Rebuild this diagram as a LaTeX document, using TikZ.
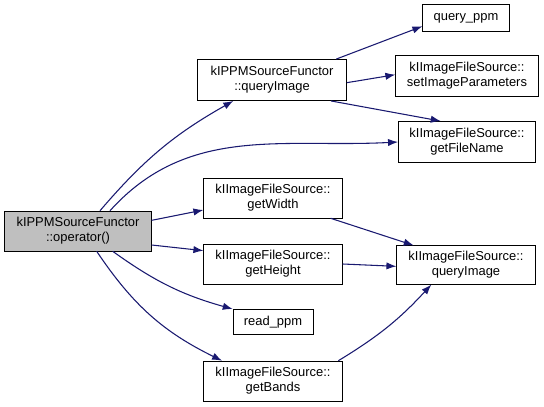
\documentclass[tikz,border=0pt]{standalone}
\usepackage{fontspec}
\setmainfont{Liberation Sans}
\usepackage{tikz}
\usetikzlibrary{arrows.meta,positioning}
\definecolor{edge}{HTML}{191970}
\definecolor{hilite}{HTML}{BFBFBF}
\tikzset{
  fn/.style={draw=black,fill=white,align=center,inner sep=0pt,minimum height=30,
    font=\fontsize{9.7}{11.3}\selectfont},
  cur/.style={fn,fill=hilite},
  arr/.style={-{Latex[length=7.5pt,width=5.5pt]},color=edge,thick}
}

\begin{document}
\begin{tikzpicture}[x=0.75pt,y=-0.75pt]
  \useasboundingbox (0,0) rectangle (544,407);
  % called functions
  \node[cur,minimum width=110] (main) at (78,231) {kIPPMSourceFunctor\\::operator()};
  \node[fn,minimum width=112,minimum height=31] (qimg) at (272,80) {kIPPMSourceFunctor\\::queryImage};
  \node[fn,minimum width=65,minimum height=20] (qppm) at (466,18) {query\_ppm};
  \node[fn,minimum width=107,minimum height=31] (setparams) at (467,76) {kIImageFileSource::\\setImageParameters};
  \node[fn,minimum width=103,minimum height=31] (getfname) at (467,142) {kIImageFileSource::\\getFileName};
  \node[fn,minimum width=104,minimum height=30] (getw) at (273,198) {kIImageFileSource::\\getWidth};
  \node[fn,minimum width=104,minimum height=30] (geth) at (273,264) {kIImageFileSource::\\getHeight};
  \node[fn,minimum width=60,minimum height=19] (readppm) at (273,322) {read\_ppm};
  \node[fn,minimum width=104,minimum height=30] (getbands) at (273,381) {kIImageFileSource::\\getBands};
  \node[fn,minimum width=104,minimum height=29] (fsqimg) at (466,265) {kIImageFileSource::\\queryImage};
  % calls
  \draw[arr] ([xshift=16.5]main.north) to[bend left=10] ([xshift=-29]qimg.south);
  \draw[arr] ([xshift=24]main.north) to[out=48,in=183] (getfname.west);
  \draw[arr] ([yshift=8]main.east) -- ([yshift=-9]getw.west);
  \draw[arr] ([yshift=-10.5]main.east) -- ([yshift=10]geth.west);
  \draw[arr] ([xshift=26]main.south) to[bend right=10] (readppm.north west);
  \draw[arr] ([xshift=14]main.south) to[bend right=15] ([xshift=14]getbands.north west);
  \draw[arr] ([xshift=-8]qimg.north east) -- ([yshift=4]qppm.south west);
  \draw[arr] ([yshift=-2]qimg.east) -- ([yshift=1]setparams.west);
  \draw[arr] ([xshift=-12]qimg.south east) -- ([xshift=32]getfname.north west);
  \draw[arr] ([xshift=-9]getw.south east) -- ([xshift=13]fsqimg.north west);
  \draw[arr] (geth.east) -- ([yshift=-1]fsqimg.west);
  \draw[arr] ([xshift=49]getbands.north) to[bend right=8] ([xshift=-26]fsqimg.south);
\end{tikzpicture}
\end{document}
